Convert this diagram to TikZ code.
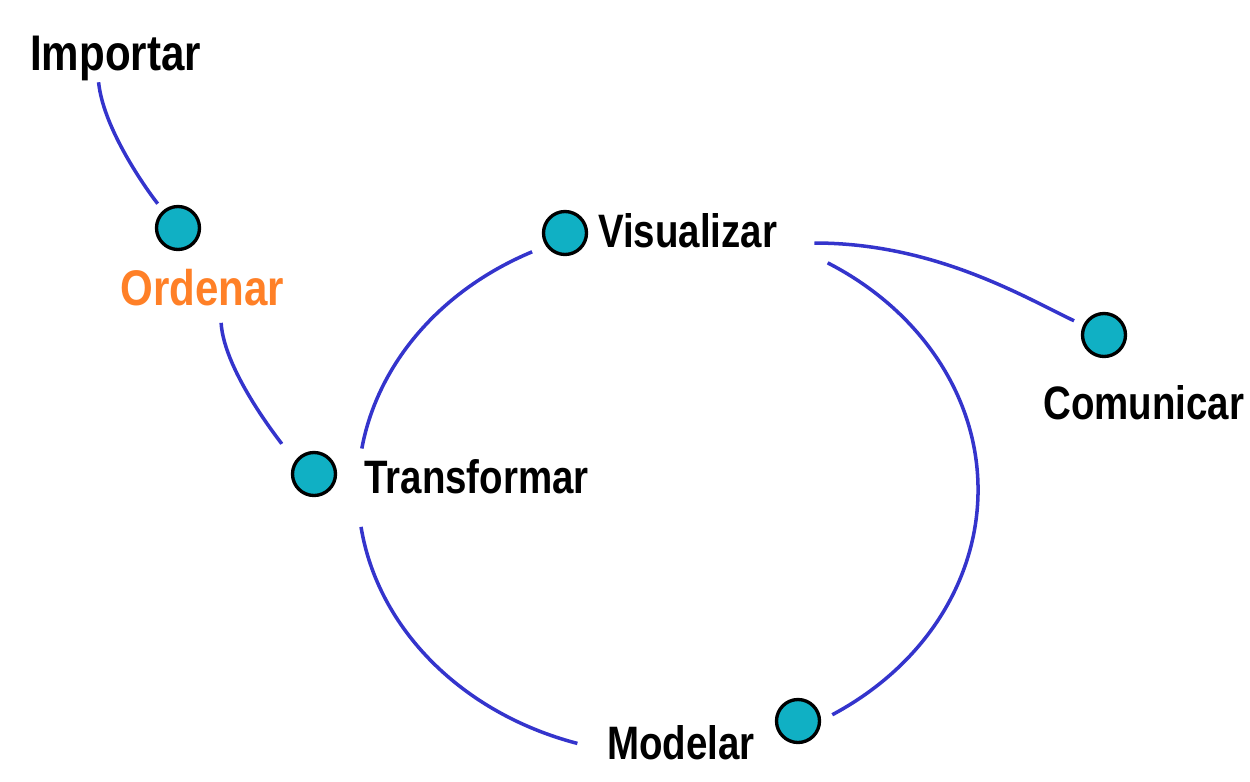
\documentclass[tikz,border=0pt]{standalone}
\usepackage{fontspec}
\setmainfont{Liberation Sans}

\definecolor{dotcyan}{RGB}{16,176,196}
\definecolor{lineblue}{RGB}{52,52,204}
\definecolor{ordorange}{RGB}{255,128,39}

\begin{document}
\begin{tikzpicture}[x=0.02cm, y=-0.02cm,
  dot/.style={circle, draw=black, line width=1.9pt, fill=dotcyan, minimum size=0.86cm, inner sep=0pt},
  lbl/.style={font=\fontsize{26.7}{30}\selectfont\bfseries, xscale=0.82, inner sep=0pt, anchor=base west},
  biglbl/.style={font=\fontsize{28.5}{32}\selectfont\bfseries, xscale=0.84, inner sep=0pt, anchor=base west},
  link/.style={draw=lineblue, line width=2pt}]

\useasboundingbox (0,0) rectangle (1250,781);

\node [biglbl]                  (imp) at (30, 70)   {Importar};
\node [biglbl, text=ordorange]  (ord) at (120, 305) {Ordenar};
\node [lbl]                     (vis) at (598, 247) {Visualizar};
\node [lbl]                     (com) at (1043, 419) {Comunicar};
\node [lbl]                     (tra) at (364, 493) {Transformar};
\node [lbl]                     (mod) at (607, 759) {Modelar};

\node [dot] (ord-dot) at (178, 228)  {};
\node [dot] (vis-dot) at (565, 233)  {};
\node [dot] (com-dot) at (1104, 335) {};
\node [dot] (tra-dot) at (314, 474)  {};
\node [dot] (mod-dot) at (798, 721)  {};

\draw [link, shorten >=0.17cm] ([shift={(-17,1.5)}]imp.south) .. controls +(5,50) and +(-25,-30) .. (ord-dot);
\draw [link, shorten >=0.42cm] ([shift={(19,17)}]ord.south) .. controls +(3,50) and +(-30,-28) .. (tra-dot);
\draw [link, shorten >=0.2cm] ([shift={(37,-4)}]vis.base east) .. controls +(120,0) and +(-80,-38) .. (com-dot);

% -------- cycle round Transformar, Visualizar, Modelar -----------
\coordinate (c) at (668, 490);
\draw [link] ([shift={(c)}]-116:310 and 265) arc[start angle=-116, end angle=-171, x radius=310, y radius=265];
\draw [link] ([shift={(c)}]-188:310 and 265) arc[start angle=-188, end angle=-253, x radius=310, y radius=265];
\draw [link] ([shift={(c)}]58:310 and 265)   arc[start angle=58, end angle=-59, x radius=310, y radius=265];

\end{tikzpicture}
\end{document}
